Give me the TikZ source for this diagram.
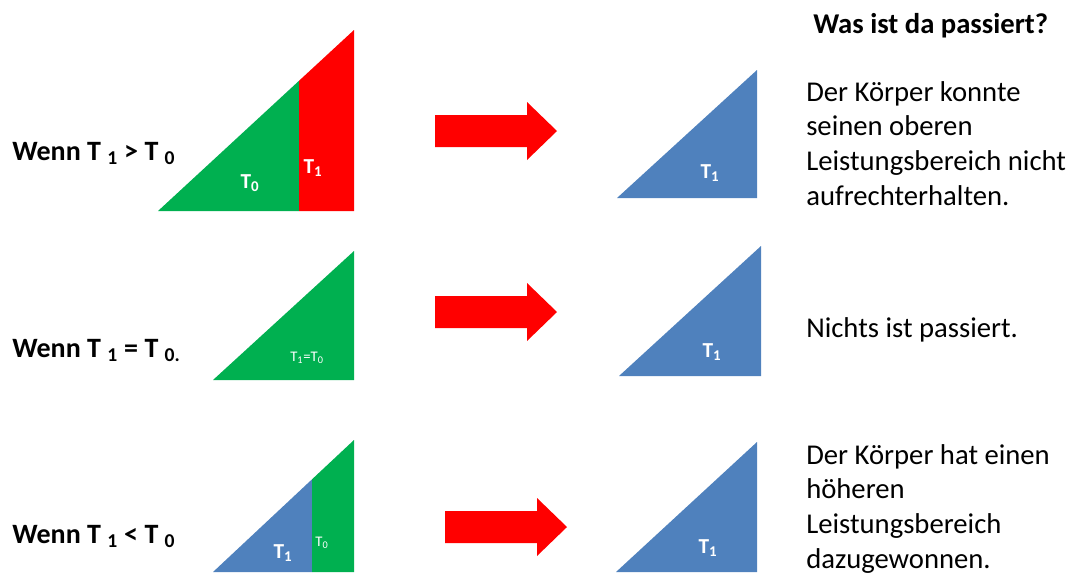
\documentclass[tikz,border=0pt]{standalone}
\usepackage{fontspec}
\setmainfont{Carlito}
\usepackage{xcolor}
\usetikzlibrary{calc}

\definecolor{tgreen}{RGB}{0,176,80}
\definecolor{tred}{RGB}{255,0,0}
\definecolor{tblue}{RGB}{79,129,189}

\begin{document}
\begin{tikzpicture}[x=0.75pt,y=-0.75pt,
	cond/.style={anchor=base west,inner sep=0pt,font=\fontsize{21}{24}\selectfont\bfseries},
	note/.style={anchor=base west,inner sep=0pt,align=left,font=\fontsize{21.5}{26}\selectfont},
	tlabel/.style={inner sep=0pt,text=white,font=\fontsize{16}{18}\selectfont\bfseries}]
	\useasboundingbox (0,0) rectangle (1071,576);
	
	% left triangles
	\coordinate (A1) at (158,211);
	\coordinate (B1) at (354,211);
	\coordinate (C1) at (354,30);
	\coordinate (S1) at ($(A1)!0.7194!(C1)$);
	\fill[tgreen] (A1) -- (S1 |- A1) -- (S1) -- cycle;
	\fill[tred] (S1 |- A1) -- (B1) -- (C1) -- (S1) -- cycle;
	
	\coordinate (A2) at (213,380);
	\coordinate (B2) at (354,380);
	\coordinate (C2) at (354,251);
	\fill[tgreen] (A2) -- (B2) -- (C2) -- cycle;
	
	\coordinate (A3) at (213,572);
	\coordinate (B3) at (354,572);
	\coordinate (C3) at (354,440);
	\coordinate (S3) at ($(A3)!0.7021!(C3)$);
	\fill[tblue] (A3) -- (S3 |- A3) -- (S3) -- cycle;
	\fill[tgreen] (S3 |- A3) -- (B3) -- (C3) -- (S3) -- cycle;
	
	% arrows
	\foreach \ax/\ay in {435/131, 435/312, 445/527}
		\fill[tred] (\ax,\ay-16) -- ++(92,0) -- ++(0,-13) -- (\ax+122,\ay)
			-- (\ax+92,\ay+29) -- ++(0,-13) -- (\ax,\ay+16) -- cycle;
	
	% right triangles
	\fill[tblue] (617,198) -- (757,198) -- (757,70) -- cycle;
	\fill[tblue] (619,376) -- (761,376) -- (761,246) -- cycle;
	\fill[tblue] (616,572) -- (757,572) -- (757,442) -- cycle;
	
	% labels in the triangles
	\node[tlabel] (t0a) at (250,183) {T\textsubscript{0}};
	\node[tlabel] (t1a) at (313,168) {T\textsubscript{1}};
	\node[tlabel,font=\fontsize{11}{12}\selectfont] (t10) at (307,358) {T\textsubscript{1}=T\textsubscript{0}};
	\node[tlabel] (t1c) at (283,553) {T\textsubscript{1}};
	\node[tlabel,font=\fontsize{11}{12}\selectfont] (t0c) at (322,543) {T\textsubscript{0}};
	\node[tlabel] (r1) at (710,173) {T\textsubscript{1}};
	\node[tlabel] (r2) at (712,352) {T\textsubscript{1}};
	\node[tlabel] (r3) at (708,548) {T\textsubscript{1}};
	
	% conditions
	\node[cond] (gt) at (12,160) {Wenn T \textsubscript{1} > T \textsubscript{0}};
	\node[cond] (eq) at (12,357) {Wenn T \textsubscript{1} = T \textsubscript{0.}};
	\node[cond] (lt) at (12,543) {Wenn T \textsubscript{1} < T \textsubscript{0}};
	
	% what happened
	\node[cond,font=\fontsize{21.5}{24}\selectfont\bfseries] (head) at (813,33) {Was ist da passiert?};
	\node[note] (n1) at (806,205) {Der Körper konnte\\seinen oberen\\Leistungsbereich nicht\\aufrechterhalten.};
	\node[note] (n2) at (806,337) {Nichts ist passiert.};
	\node[note] (n3) at (806,568) {Der Körper hat einen\\höheren\\Leistungsbereich\\dazugewonnen.};
\end{tikzpicture}
\end{document}
